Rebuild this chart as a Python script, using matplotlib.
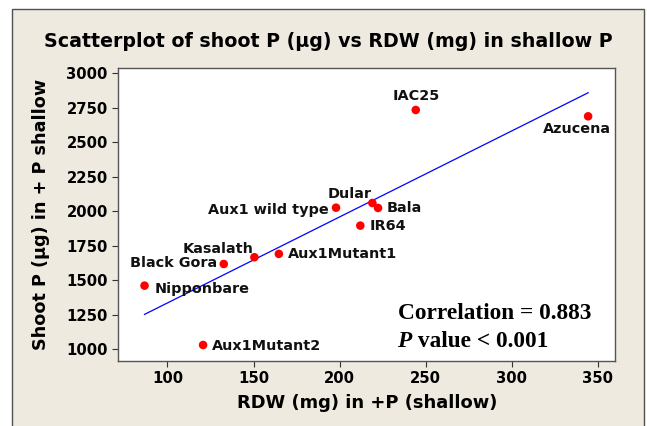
import numpy as np
import matplotlib
matplotlib.use("Agg")
import matplotlib.pyplot as plt
from matplotlib.patches import Rectangle

# ---- data ----
names = ["IAC25", "Azucena", "Dular", "Bala", "Aux1 wild type", "IR64",
         "Aux1Mutant1", "Kasalath", "Black Gora", "Nipponbare", "Aux1Mutant2"]
rdw = [244.2, 344.3, 219.0, 222.3, 197.9, 212.0, 164.7, 150.5, 132.7, 86.7, 120.7]
shoot_p = [2734, 2688, 2060, 2024, 2026, 1896, 1691, 1667, 1618, 1461, 1031]
x_ticks = [100, 150, 200, 250, 300, 350]
y_ticks = [1000, 1250, 1500, 1750, 2000, 2250, 2500, 2750, 3000]

# label placement: (dx px, dy px, ha)
label_pos = {
    "IAC25": (0, 14, "center"),
    "Azucena": (23, -13, "right"),
    "Dular": (-1, 9, "right"),
    "Bala": (9, 0, "left"),
    "Aux1 wild type": (-7, -2, "right"),
    "IR64": (9, 0, "left"),
    "Aux1Mutant1": (9, 0, "left"),
    "Kasalath": (-1, 8, "right"),
    "Black Gora": (-7, 1, "right"),
    "Nipponbare": (10, -3, "left"),
    "Aux1Mutant2": (9, -1, "left"),
}

W, H = 647, 426
fig = plt.figure(figsize=(W / 100, H / 100), dpi=100)
fig.patch.set_facecolor("white")
bg = "#EEEAE0"
frame = Rectangle((11.7 / W, -0.05), (644 - 11.7) / W, 1.05 - 9 / H,
                  transform=fig.transFigure, facecolor=bg,
                  edgecolor="#505050", linewidth=1.0, zorder=-10)
fig.patches.append(frame)

ax = fig.add_axes([117.5 / W, 1 - 361 / H, (615 - 117.5) / W, (361 - 68.3) / H])
ax.set_zorder(5)
ax.set_facecolor("white")
ax.set_xlim(71.0, 359.9)
ax.set_ylim(915, 3036)

# regression line
coef = np.polyfit(rdw, shoot_p, 1)
xl = np.array([min(rdw), max(rdw)])
ax.plot(xl, np.polyval(coef, xl), color="#0000FF", linewidth=0.9, zorder=2)

ax.scatter(rdw, shoot_p, s=38, color="#FF0000", edgecolors="none", zorder=3)

for n, xv, yv in zip(names, rdw, shoot_p):
    dx, dy, ha = label_pos[n]
    ax.annotate(n, (xv, yv), xytext=(dx, dy), textcoords="offset pixels",
                ha=ha, va="center", fontsize=10.4, fontweight="bold",
                family="DejaVu Sans", color="#111111", zorder=4)

ax.set_xticks(x_ticks)
ax.set_yticks(y_ticks)
ax.tick_params(direction="out", length=4, width=0.8, color="#333333",
               labelsize=10.7, pad=3)
for lab in ax.get_xticklabels() + ax.get_yticklabels():
    lab.set_fontweight("bold")
for s in ax.spines.values():
    s.set_color("#555555")
    s.set_linewidth(1.0)

fig.text(328 / W, 1 - 41.7 / H, "Scatterplot of shoot P (µg) vs RDW (mg) in shallow P",
         ha="center", va="center", fontsize=13.7, fontweight="bold")
fig.text(367 / W, 1 - 403 / H, "RDW (mg) in +P (shallow)", ha="center", va="center",
         fontsize=12.9, fontweight="bold")
fig.text(41 / W, 1 - 214 / H, "Shoot P (µg) in + P shallow", ha="center", va="center",
         rotation=90, fontsize=12.7, fontweight="bold")

fig.text(397.5 / W, 1 - 313.3 / H, "Correlation = 0.883", ha="left", va="center",
         fontsize=16.8, fontweight="bold", family="Liberation Serif", zorder=10)
ptxt = fig.text(397.5 / W, 1 - 341.7 / H, "P", ha="left", va="center",
                fontsize=16.8, fontweight="bold", style="italic",
                family="Liberation Serif", zorder=10)
ax.annotate(" value < 0.001", xy=(1, 0.5), xycoords=ptxt, ha="left", va="center",
            fontsize=16.8, fontweight="bold", family="Liberation Serif",
            annotation_clip=False, zorder=10)

fig.savefig("out.png", dpi=100)
